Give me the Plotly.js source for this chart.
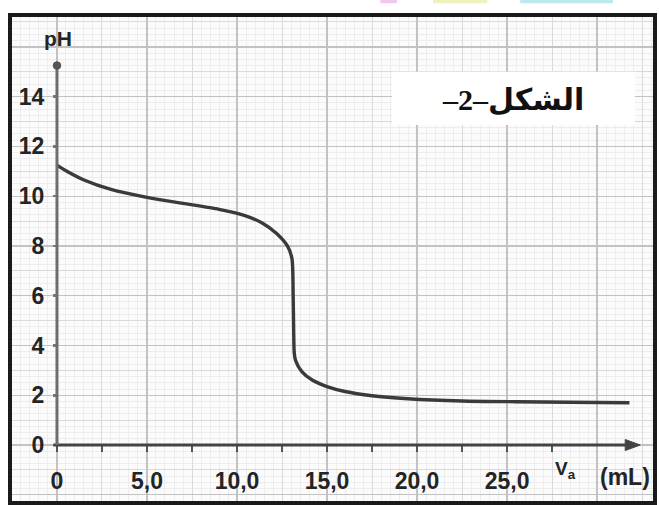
<!DOCTYPE html>
<html>
<head>
<meta charset="utf-8">
<script src="https://cdn.plot.ly/plotly-3.0.1.min.js"></script>
<style>html,body{margin:0;padding:0;background:#fff;}</style>
</head>
<body>
<div id="chart" style="width:659px;height:505px"></div>
<script>
// ---- data ----
const volume = [0, 0.5, 1.5, 3.0, 5.0, 7.0, 9.0, 10.4, 11.4, 12.2, 12.8, 13.05, 13.12, 13.15, 13.18, 13.25, 13.6, 14.2, 15.0, 16.0, 17.5, 19.5, 22.5, 25.5, 28.5, 31.8];
const pH     = [11.25, 11.02, 10.65, 10.27, 9.95, 9.71, 9.47, 9.23, 8.92, 8.5, 8.0, 7.5, 6.0, 4.5, 3.7, 3.4, 2.95, 2.6, 2.35, 2.15, 1.98, 1.86, 1.77, 1.74, 1.72, 1.70];

const xTickVals = [0, 2.5, 5, 7.5, 10, 12.5, 15, 17.5, 20, 22.5, 25, 27.5];
const xTickText = ['0', '', '5,0', '', '10,0', '', '15,0', '', '20,0', '', '25,0', ''];
const yTickVals = [0, 2, 4, 6, 8, 10, 12, 14];
const yTickText = ['0', '2', '4', '6', '8', '10', '12', '14'];

const yAxisTitle = 'pH';
const xAxisSymbol = 'V<sub>a</sub>';
const xAxisUnit = '(mL)';
const figureLabel = '–2–الشكل';

// ---- layout ----
const X_RANGE = [-2.61, 33.22];
const Y_RANGE = [-2.33, 17.28];
const posX = (0 - X_RANGE[0]) / (X_RANGE[1] - X_RANGE[0]);
const posY = (0 - Y_RANGE[0]) / (Y_RANGE[1] - Y_RANGE[0]);
// pixel -> data unit helpers for axis decorations (plot area 645 x 488 px)
const PX_X = (X_RANGE[1] - X_RANGE[0]) / 645;
const PX_Y = (Y_RANGE[1] - Y_RANGE[0]) / 488;
const X_END = 32.4, Y_END = 15.25;
const headLen = 15 * PX_X, headHalf = 5.5 * PX_Y;
const dotRx = 3.8 * PX_X, dotRy = 3.8 * PX_Y;

const tickFont = {family: 'Liberation Sans, Arial, sans-serif', size: 23, color: '#242424', weight: 'bold'};

const traces = [
  {x: volume, y: pH, type: 'scatter', mode: 'lines', xaxis: 'x', yaxis: 'y',
   line: {color: '#3a3a3a', width: 3.4, shape: 'spline', smoothing: 0.7},
   hoverinfo: 'skip', showlegend: false},
  {x: [null], y: [null], type: 'scatter', mode: 'lines', xaxis: 'x2', yaxis: 'y2', hoverinfo: 'skip', showlegend: false},
  {x: [null], y: [null], type: 'scatter', mode: 'lines', xaxis: 'x3', yaxis: 'y3', hoverinfo: 'skip', showlegend: false}
];

const layout = {
  width: 659, height: 505,
  margin: {l: 10, r: 4, t: 15, b: 2, pad: 0},
  paper_bgcolor: '#ffffff', plot_bgcolor: '#fbfbfb',
  showlegend: false,
  xaxis: {range: X_RANGE, tickmode: 'linear', tick0: 0, dtick: 2.5,
          showgrid: true, gridcolor: '#dadada', gridwidth: 1,
          minor: {tick0: 0, dtick: 0.5, showgrid: true, gridcolor: '#ededed', gridwidth: 1, ticks: ''},
          showticklabels: false, ticks: '', zeroline: false, showline: false, fixedrange: true},
  yaxis: {range: Y_RANGE, tickmode: 'linear', tick0: 0, dtick: 1,
          showgrid: true, gridcolor: '#dadada', gridwidth: 1,
          minor: {tick0: 0, dtick: 0.25, showgrid: true, gridcolor: '#ededed', gridwidth: 1, ticks: ''},
          showticklabels: false, ticks: '', zeroline: false, showline: false, fixedrange: true},
  xaxis2: {overlaying: 'x', anchor: 'y2', range: X_RANGE, tickmode: 'linear', tick0: 0, dtick: 5,
           showgrid: true, gridcolor: '#c2c2c2', gridwidth: 1.3,
           showticklabels: false, ticks: '', zeroline: false, showline: false, fixedrange: true},
  yaxis2: {overlaying: 'y', anchor: 'x2', range: Y_RANGE, tickmode: 'linear', tick0: 0, dtick: 2,
           showgrid: true, gridcolor: '#c2c2c2', gridwidth: 1.3,
           showticklabels: false, ticks: '', zeroline: false, showline: false, fixedrange: true},
  xaxis3: {overlaying: 'x', anchor: 'free', position: posY, side: 'bottom', range: X_RANGE,
           tickmode: 'array', tickvals: xTickVals, ticktext: xTickText,
           ticks: 'outside', ticklen: 6, tickwidth: 2.5, tickcolor: '#555555',
           ticklabelstandoff: 9, tickfont: tickFont,
           showgrid: false, zeroline: false, showline: false, fixedrange: true},
  yaxis3: {overlaying: 'y', anchor: 'free', position: posX, side: 'left', range: Y_RANGE,
           tickmode: 'array', tickvals: yTickVals, ticktext: yTickText,
           ticks: 'outside', ticklen: 4, tickwidth: 2.5, tickcolor: '#777777',
           ticklabelstandoff: 4, tickfont: tickFont,
           showgrid: false, zeroline: false, showline: false, fixedrange: true},
  shapes: [
    // drawn axes with arrow / dot heads
    {type: 'line', xref: 'x', yref: 'y', x0: -0.2, x1: X_END - headLen * 0.6, y0: 0, y1: 0,
     line: {color: '#444444', width: 3}, layer: 'above'},
    {type: 'path', xref: 'x', yref: 'y',
     path: 'M ' + (X_END - headLen) + ',' + headHalf + ' L ' + X_END + ',0 L ' + (X_END - headLen) + ',' + (-headHalf) + ' Z',
     fillcolor: '#444444', line: {color: '#444444', width: 1}, layer: 'above'},
    {type: 'line', xref: 'x', yref: 'y', x0: 0, x1: 0, y0: 0, y1: Y_END,
     line: {color: '#6e6e6e', width: 3}, layer: 'above'},
    {type: 'circle', xref: 'x', yref: 'y', x0: -dotRx, x1: dotRx, y0: Y_END - dotRy, y1: Y_END + dotRy,
     fillcolor: '#555555', line: {color: '#555555', width: 1}, layer: 'above'},
    // frame
    {type: 'rect', xref: 'paper', yref: 'paper', x0: 0, x1: 1, y0: 0, y1: 1,
     line: {color: '#1a1a1a', width: 4}, layer: 'above'},
    // white label box
    {type: 'rect', xref: 'x', yref: 'y', x0: 18.6, x1: 32.1, y0: 12.86, y1: 15.0,
     fillcolor: '#ffffff', line: {width: 0}, layer: 'above'},
    // coloured scraps at the top edge
    {type: 'rect', xref: 'paper', yref: 'paper', x0: 0.574, x1: 0.60, y0: 1.024, y1: 1.031,
     fillcolor: '#f1c9f0', line: {width: 0}},
    {type: 'rect', xref: 'paper', yref: 'paper', x0: 0.656, x1: 0.74, y0: 1.024, y1: 1.031,
     fillcolor: '#eef1bb', line: {width: 0}},
    {type: 'rect', xref: 'paper', yref: 'paper', x0: 0.791, x1: 0.935, y0: 1.024, y1: 1.031,
     fillcolor: '#bde9ee', line: {width: 0}}
  ],
  annotations: [
    {x: 0.05, y: 16.35, xref: 'x', yref: 'y', text: yAxisTitle, showarrow: false,
     xanchor: 'center', yanchor: 'middle',
     font: {family: 'Liberation Sans, Arial, sans-serif', size: 21, color: '#242424', weight: 'bold'}},
    {x: 28.25, y: -1.0, xref: 'x', yref: 'y', text: xAxisSymbol, showarrow: false,
     xanchor: 'center', yanchor: 'middle',
     font: {family: 'Liberation Sans, Arial, sans-serif', size: 19, color: '#242424', weight: 'bold'}},
    {x: 33.08, y: -1.3, xref: 'x', yref: 'y', text: xAxisUnit, showarrow: false,
     xanchor: 'right', yanchor: 'middle',
     font: {family: 'Liberation Sans, Arial, sans-serif', size: 23, color: '#242424', weight: 'bold'}},
    {x: 25.35, y: 13.9, xref: 'x', yref: 'y', text: figureLabel, showarrow: false,
     xanchor: 'center', yanchor: 'middle',
     font: {family: 'Liberation Serif, DejaVu Serif, DejaVu Sans, serif', size: 30, color: '#111111', weight: 'bold'}}
  ]
};

Plotly.newPlot('chart', traces, layout, {displayModeBar: false, staticPlot: true});
</script>
</body>
</html>
